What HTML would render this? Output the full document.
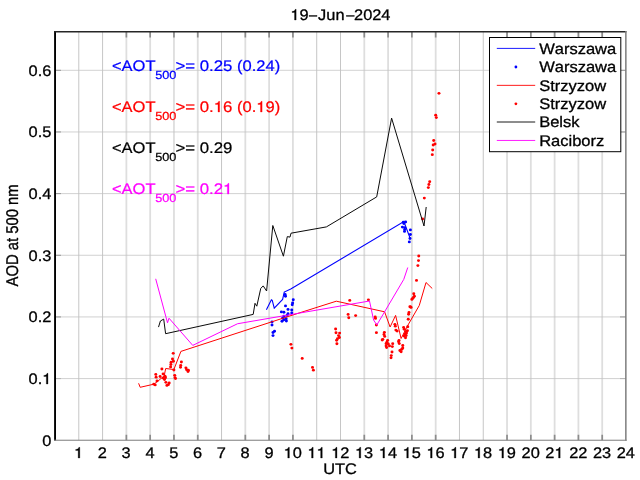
<!DOCTYPE html>
<html><head><meta charset="utf-8"><title>AOD 19-Jun-2024</title>
<style>html,body{margin:0;padding:0;background:#fff;}svg{display:block;}text{font-family:"Liberation Sans",sans-serif;stroke-width:3px;stroke-linejoin:round;text-rendering:geometricPrecision;font-kerning:none;white-space:pre;}.h{fill:none;stroke:none;}</style></head><body>
<svg width="640" height="480" viewBox="0 0 640 480" style="will-change:transform">
<defs><path id="one" d="M254 0V505H100V568C210 572 280 610 296 709H352V0Z" stroke-width="19" stroke-linejoin="round"/></defs>
<rect x="0" y="0" width="640" height="480" fill="#fff"/>
<line x1="78.79" y1="32.0" x2="78.79" y2="440.25" stroke="#c6c6c6" stroke-width="1"/>
<line x1="102.58" y1="32.0" x2="102.58" y2="440.25" stroke="#c6c6c6" stroke-width="1"/>
<line x1="126.38" y1="32.0" x2="126.38" y2="440.25" stroke="#dedede" stroke-width="1.8"/>
<line x1="150.17" y1="32.0" x2="150.17" y2="440.25" stroke="#dedede" stroke-width="1.8"/>
<line x1="173.96" y1="32.0" x2="173.96" y2="440.25" stroke="#dedede" stroke-width="1.8"/>
<line x1="197.75" y1="32.0" x2="197.75" y2="440.25" stroke="#dedede" stroke-width="1.8"/>
<line x1="221.54" y1="32.0" x2="221.54" y2="440.25" stroke="#c6c6c6" stroke-width="1"/>
<line x1="245.33" y1="32.0" x2="245.33" y2="440.25" stroke="#dedede" stroke-width="1.8"/>
<line x1="269.12" y1="32.0" x2="269.12" y2="440.25" stroke="#dedede" stroke-width="1.8"/>
<line x1="292.92" y1="32.0" x2="292.92" y2="440.25" stroke="#dedede" stroke-width="1.8"/>
<line x1="316.71" y1="32.0" x2="316.71" y2="440.25" stroke="#c6c6c6" stroke-width="1"/>
<line x1="340.50" y1="32.0" x2="340.50" y2="440.25" stroke="#c6c6c6" stroke-width="1"/>
<line x1="364.29" y1="32.0" x2="364.29" y2="440.25" stroke="#dedede" stroke-width="1.8"/>
<line x1="388.08" y1="32.0" x2="388.08" y2="440.25" stroke="#dedede" stroke-width="1.8"/>
<line x1="411.88" y1="32.0" x2="411.88" y2="440.25" stroke="#dedede" stroke-width="1.8"/>
<line x1="435.67" y1="32.0" x2="435.67" y2="440.25" stroke="#dedede" stroke-width="1.8"/>
<line x1="459.46" y1="32.0" x2="459.46" y2="440.25" stroke="#c6c6c6" stroke-width="1"/>
<line x1="483.25" y1="32.0" x2="483.25" y2="440.25" stroke="#c6c6c6" stroke-width="1"/>
<line x1="507.04" y1="32.0" x2="507.04" y2="440.25" stroke="#dedede" stroke-width="1.8"/>
<line x1="530.83" y1="32.0" x2="530.83" y2="440.25" stroke="#dedede" stroke-width="1.8"/>
<line x1="554.62" y1="32.0" x2="554.62" y2="440.25" stroke="#dedede" stroke-width="1.8"/>
<line x1="578.42" y1="32.0" x2="578.42" y2="440.25" stroke="#dedede" stroke-width="1.8"/>
<line x1="602.21" y1="32.0" x2="602.21" y2="440.25" stroke="#dedede" stroke-width="1.8"/>
<line x1="55.0" y1="378.59" x2="626.0" y2="378.59" stroke="#c2c2c2" stroke-width="0.75"/>
<line x1="55.0" y1="316.93" x2="626.0" y2="316.93" stroke="#c2c2c2" stroke-width="0.75"/>
<line x1="55.0" y1="255.28" x2="626.0" y2="255.28" stroke="#c2c2c2" stroke-width="0.75"/>
<line x1="55.0" y1="193.62" x2="626.0" y2="193.62" stroke="#c2c2c2" stroke-width="0.75"/>
<line x1="55.0" y1="131.96" x2="626.0" y2="131.96" stroke="#c2c2c2" stroke-width="0.75"/>
<line x1="55.0" y1="70.30" x2="626.0" y2="70.30" stroke="#c2c2c2" stroke-width="0.75"/>
<line x1="126.38" y1="440.25" x2="126.38" y2="434.75" stroke="#8c8c8c" stroke-width="1.7"/>
<line x1="126.38" y1="32.0" x2="126.38" y2="37.5" stroke="#8c8c8c" stroke-width="1.7"/>
<line x1="150.17" y1="440.25" x2="150.17" y2="434.75" stroke="#8c8c8c" stroke-width="1.7"/>
<line x1="150.17" y1="32.0" x2="150.17" y2="37.5" stroke="#8c8c8c" stroke-width="1.7"/>
<line x1="173.96" y1="440.25" x2="173.96" y2="434.75" stroke="#8c8c8c" stroke-width="1.7"/>
<line x1="173.96" y1="32.0" x2="173.96" y2="37.5" stroke="#8c8c8c" stroke-width="1.7"/>
<line x1="197.75" y1="440.25" x2="197.75" y2="434.75" stroke="#8c8c8c" stroke-width="1.7"/>
<line x1="197.75" y1="32.0" x2="197.75" y2="37.5" stroke="#8c8c8c" stroke-width="1.7"/>
<line x1="245.33" y1="440.25" x2="245.33" y2="434.75" stroke="#8c8c8c" stroke-width="1.7"/>
<line x1="245.33" y1="32.0" x2="245.33" y2="37.5" stroke="#8c8c8c" stroke-width="1.7"/>
<line x1="269.12" y1="440.25" x2="269.12" y2="434.75" stroke="#8c8c8c" stroke-width="1.7"/>
<line x1="269.12" y1="32.0" x2="269.12" y2="37.5" stroke="#8c8c8c" stroke-width="1.7"/>
<line x1="292.92" y1="440.25" x2="292.92" y2="434.75" stroke="#8c8c8c" stroke-width="1.7"/>
<line x1="292.92" y1="32.0" x2="292.92" y2="37.5" stroke="#8c8c8c" stroke-width="1.7"/>
<line x1="364.29" y1="440.25" x2="364.29" y2="434.75" stroke="#8c8c8c" stroke-width="1.7"/>
<line x1="364.29" y1="32.0" x2="364.29" y2="37.5" stroke="#8c8c8c" stroke-width="1.7"/>
<line x1="388.08" y1="440.25" x2="388.08" y2="434.75" stroke="#8c8c8c" stroke-width="1.7"/>
<line x1="388.08" y1="32.0" x2="388.08" y2="37.5" stroke="#8c8c8c" stroke-width="1.7"/>
<line x1="411.88" y1="440.25" x2="411.88" y2="434.75" stroke="#8c8c8c" stroke-width="1.7"/>
<line x1="411.88" y1="32.0" x2="411.88" y2="37.5" stroke="#8c8c8c" stroke-width="1.7"/>
<line x1="435.67" y1="440.25" x2="435.67" y2="434.75" stroke="#8c8c8c" stroke-width="1.7"/>
<line x1="435.67" y1="32.0" x2="435.67" y2="37.5" stroke="#8c8c8c" stroke-width="1.7"/>
<line x1="507.04" y1="440.25" x2="507.04" y2="434.75" stroke="#8c8c8c" stroke-width="1.7"/>
<line x1="507.04" y1="32.0" x2="507.04" y2="37.5" stroke="#8c8c8c" stroke-width="1.7"/>
<line x1="530.83" y1="440.25" x2="530.83" y2="434.75" stroke="#8c8c8c" stroke-width="1.7"/>
<line x1="530.83" y1="32.0" x2="530.83" y2="37.5" stroke="#8c8c8c" stroke-width="1.7"/>
<line x1="554.62" y1="440.25" x2="554.62" y2="434.75" stroke="#8c8c8c" stroke-width="1.7"/>
<line x1="554.62" y1="32.0" x2="554.62" y2="37.5" stroke="#8c8c8c" stroke-width="1.7"/>
<line x1="578.42" y1="440.25" x2="578.42" y2="434.75" stroke="#8c8c8c" stroke-width="1.7"/>
<line x1="578.42" y1="32.0" x2="578.42" y2="37.5" stroke="#8c8c8c" stroke-width="1.7"/>
<line x1="602.21" y1="440.25" x2="602.21" y2="434.75" stroke="#8c8c8c" stroke-width="1.7"/>
<line x1="602.21" y1="32.0" x2="602.21" y2="37.5" stroke="#8c8c8c" stroke-width="1.7"/>
<line x1="55.0" y1="378.59" x2="61.0" y2="378.59" stroke="#b0b0b0" stroke-width="0.9"/>
<line x1="626.0" y1="378.59" x2="620.0" y2="378.59" stroke="#b0b0b0" stroke-width="0.9"/>
<line x1="55.0" y1="316.93" x2="61.0" y2="316.93" stroke="#8e8e8e" stroke-width="0.9"/>
<line x1="626.0" y1="316.93" x2="620.0" y2="316.93" stroke="#8e8e8e" stroke-width="0.9"/>
<line x1="55.0" y1="255.28" x2="61.0" y2="255.28" stroke="#8e8e8e" stroke-width="0.9"/>
<line x1="626.0" y1="255.28" x2="620.0" y2="255.28" stroke="#8e8e8e" stroke-width="0.9"/>
<line x1="55.0" y1="193.62" x2="61.0" y2="193.62" stroke="#8e8e8e" stroke-width="0.9"/>
<line x1="626.0" y1="193.62" x2="620.0" y2="193.62" stroke="#8e8e8e" stroke-width="0.9"/>
<line x1="55.0" y1="131.96" x2="61.0" y2="131.96" stroke="#8e8e8e" stroke-width="0.9"/>
<line x1="626.0" y1="131.96" x2="620.0" y2="131.96" stroke="#8e8e8e" stroke-width="0.9"/>
<line x1="55.0" y1="70.30" x2="61.0" y2="70.30" stroke="#8e8e8e" stroke-width="0.9"/>
<line x1="626.0" y1="70.30" x2="620.0" y2="70.30" stroke="#8e8e8e" stroke-width="0.9"/>
<polyline points="266.40,309.75 271.40,299.75 272.25,300.25 274.25,308.10 282.60,299.40 284.25,292.10 290.75,289.00 403.90,221.60 410.20,238.50" fill="none" stroke="#0000ff" stroke-width="1.1" stroke-linejoin="miter"/>
<ellipse cx="285.10" cy="294.40" rx="1.5" ry="1.4" fill="#0000ff"/>
<ellipse cx="285.50" cy="296.25" rx="1.5" ry="1.4" fill="#0000ff"/>
<ellipse cx="293.25" cy="299.75" rx="1.5" ry="1.4" fill="#0000ff"/>
<ellipse cx="292.60" cy="302.90" rx="1.5" ry="1.4" fill="#0000ff"/>
<ellipse cx="292.25" cy="304.75" rx="1.5" ry="1.4" fill="#0000ff"/>
<ellipse cx="285.50" cy="305.90" rx="1.5" ry="1.4" fill="#0000ff"/>
<ellipse cx="288.00" cy="309.40" rx="1.5" ry="1.4" fill="#0000ff"/>
<ellipse cx="291.75" cy="310.00" rx="1.5" ry="1.4" fill="#0000ff"/>
<ellipse cx="281.40" cy="311.90" rx="1.5" ry="1.4" fill="#0000ff"/>
<ellipse cx="283.90" cy="312.25" rx="1.5" ry="1.4" fill="#0000ff"/>
<ellipse cx="291.75" cy="312.90" rx="1.5" ry="1.4" fill="#0000ff"/>
<ellipse cx="288.00" cy="313.75" rx="1.5" ry="1.4" fill="#0000ff"/>
<ellipse cx="287.00" cy="315.40" rx="1.5" ry="1.4" fill="#0000ff"/>
<ellipse cx="283.90" cy="316.25" rx="1.5" ry="1.4" fill="#0000ff"/>
<ellipse cx="282.60" cy="318.10" rx="1.5" ry="1.4" fill="#0000ff"/>
<ellipse cx="286.10" cy="318.75" rx="1.5" ry="1.4" fill="#0000ff"/>
<ellipse cx="283.90" cy="319.75" rx="1.5" ry="1.4" fill="#0000ff"/>
<ellipse cx="282.00" cy="321.25" rx="1.5" ry="1.4" fill="#0000ff"/>
<ellipse cx="286.40" cy="321.00" rx="1.5" ry="1.4" fill="#0000ff"/>
<ellipse cx="272.00" cy="321.90" rx="1.5" ry="1.4" fill="#0000ff"/>
<ellipse cx="272.00" cy="325.00" rx="1.5" ry="1.4" fill="#0000ff"/>
<ellipse cx="274.50" cy="331.25" rx="1.5" ry="1.4" fill="#0000ff"/>
<ellipse cx="273.00" cy="332.50" rx="1.5" ry="1.4" fill="#0000ff"/>
<ellipse cx="273.00" cy="335.60" rx="1.5" ry="1.4" fill="#0000ff"/>
<ellipse cx="403.30" cy="222.25" rx="1.5" ry="1.4" fill="#0000ff"/>
<ellipse cx="405.60" cy="221.90" rx="1.5" ry="1.4" fill="#0000ff"/>
<ellipse cx="403.90" cy="223.60" rx="1.5" ry="1.4" fill="#0000ff"/>
<ellipse cx="402.40" cy="227.10" rx="1.5" ry="1.4" fill="#0000ff"/>
<ellipse cx="404.70" cy="227.60" rx="1.5" ry="1.4" fill="#0000ff"/>
<ellipse cx="404.70" cy="229.40" rx="1.5" ry="1.4" fill="#0000ff"/>
<ellipse cx="404.50" cy="231.40" rx="1.5" ry="1.4" fill="#0000ff"/>
<ellipse cx="410.40" cy="229.90" rx="1.5" ry="1.4" fill="#0000ff"/>
<ellipse cx="410.40" cy="234.50" rx="1.5" ry="1.4" fill="#0000ff"/>
<ellipse cx="410.00" cy="238.50" rx="1.5" ry="1.4" fill="#0000ff"/>
<ellipse cx="409.30" cy="241.90" rx="1.5" ry="1.4" fill="#0000ff"/>
<polyline points="138.60,383.30 140.20,387.30 153.75,384.20 157.40,381.60 164.20,375.80 165.70,368.50 173.90,369.50 180.90,351.40 290.00,315.90 336.30,301.20 384.60,311.80 390.10,327.00 395.60,315.40 401.10,338.50 408.00,325.00 419.25,305.50 426.00,282.50 432.25,288.50" fill="none" stroke="#ff0000" stroke-width="1.0" stroke-linejoin="miter"/>
<ellipse cx="173.20" cy="353.30" rx="1.5" ry="1.4" fill="#ff0000"/>
<ellipse cx="172.50" cy="358.90" rx="1.5" ry="1.4" fill="#ff0000"/>
<ellipse cx="173.40" cy="361.25" rx="1.5" ry="1.4" fill="#ff0000"/>
<ellipse cx="171.10" cy="362.20" rx="1.5" ry="1.4" fill="#ff0000"/>
<ellipse cx="170.90" cy="364.50" rx="1.5" ry="1.4" fill="#ff0000"/>
<ellipse cx="170.60" cy="366.90" rx="1.5" ry="1.4" fill="#ff0000"/>
<ellipse cx="181.40" cy="362.00" rx="1.5" ry="1.4" fill="#ff0000"/>
<ellipse cx="180.70" cy="365.50" rx="1.5" ry="1.4" fill="#ff0000"/>
<ellipse cx="180.50" cy="367.30" rx="1.5" ry="1.4" fill="#ff0000"/>
<ellipse cx="185.90" cy="367.80" rx="1.5" ry="1.4" fill="#ff0000"/>
<ellipse cx="186.60" cy="369.70" rx="1.5" ry="1.4" fill="#ff0000"/>
<ellipse cx="188.40" cy="370.20" rx="1.5" ry="1.4" fill="#ff0000"/>
<ellipse cx="188.00" cy="371.60" rx="1.5" ry="1.4" fill="#ff0000"/>
<ellipse cx="161.90" cy="369.00" rx="1.5" ry="1.4" fill="#ff0000"/>
<ellipse cx="173.90" cy="370.00" rx="1.5" ry="1.4" fill="#ff0000"/>
<ellipse cx="155.80" cy="374.40" rx="1.5" ry="1.4" fill="#ff0000"/>
<ellipse cx="163.10" cy="373.90" rx="1.5" ry="1.4" fill="#ff0000"/>
<ellipse cx="156.10" cy="377.20" rx="1.5" ry="1.4" fill="#ff0000"/>
<ellipse cx="160.10" cy="376.50" rx="1.5" ry="1.4" fill="#ff0000"/>
<ellipse cx="165.00" cy="376.25" rx="1.5" ry="1.4" fill="#ff0000"/>
<ellipse cx="165.50" cy="377.70" rx="1.5" ry="1.4" fill="#ff0000"/>
<ellipse cx="163.10" cy="378.10" rx="1.5" ry="1.4" fill="#ff0000"/>
<ellipse cx="164.50" cy="379.50" rx="1.5" ry="1.4" fill="#ff0000"/>
<ellipse cx="174.70" cy="375.30" rx="1.5" ry="1.4" fill="#ff0000"/>
<ellipse cx="175.00" cy="377.70" rx="1.5" ry="1.4" fill="#ff0000"/>
<ellipse cx="175.50" cy="378.60" rx="1.5" ry="1.4" fill="#ff0000"/>
<ellipse cx="157.00" cy="380.90" rx="1.5" ry="1.4" fill="#ff0000"/>
<ellipse cx="165.90" cy="382.30" rx="1.5" ry="1.4" fill="#ff0000"/>
<ellipse cx="169.20" cy="383.00" rx="1.5" ry="1.4" fill="#ff0000"/>
<ellipse cx="168.30" cy="384.70" rx="1.5" ry="1.4" fill="#ff0000"/>
<ellipse cx="166.90" cy="385.40" rx="1.5" ry="1.4" fill="#ff0000"/>
<ellipse cx="153.75" cy="384.20" rx="1.5" ry="1.4" fill="#ff0000"/>
<ellipse cx="155.20" cy="384.90" rx="1.5" ry="1.4" fill="#ff0000"/>
<ellipse cx="290.90" cy="344.30" rx="1.5" ry="1.4" fill="#ff0000"/>
<ellipse cx="291.90" cy="348.10" rx="1.5" ry="1.4" fill="#ff0000"/>
<ellipse cx="302.20" cy="358.40" rx="1.5" ry="1.4" fill="#ff0000"/>
<ellipse cx="312.50" cy="367.40" rx="1.5" ry="1.4" fill="#ff0000"/>
<ellipse cx="313.40" cy="370.20" rx="1.5" ry="1.4" fill="#ff0000"/>
<ellipse cx="349.75" cy="300.40" rx="1.5" ry="1.4" fill="#ff0000"/>
<ellipse cx="348.10" cy="314.40" rx="1.5" ry="1.4" fill="#ff0000"/>
<ellipse cx="348.75" cy="317.75" rx="1.5" ry="1.4" fill="#ff0000"/>
<ellipse cx="355.60" cy="315.60" rx="1.5" ry="1.4" fill="#ff0000"/>
<ellipse cx="335.60" cy="329.00" rx="1.5" ry="1.4" fill="#ff0000"/>
<ellipse cx="336.00" cy="332.75" rx="1.5" ry="1.4" fill="#ff0000"/>
<ellipse cx="339.60" cy="333.10" rx="1.5" ry="1.4" fill="#ff0000"/>
<ellipse cx="338.50" cy="335.60" rx="1.5" ry="1.4" fill="#ff0000"/>
<ellipse cx="339.40" cy="337.50" rx="1.5" ry="1.4" fill="#ff0000"/>
<ellipse cx="337.50" cy="338.75" rx="1.5" ry="1.4" fill="#ff0000"/>
<ellipse cx="336.60" cy="340.25" rx="1.5" ry="1.4" fill="#ff0000"/>
<ellipse cx="336.90" cy="343.75" rx="1.5" ry="1.4" fill="#ff0000"/>
<ellipse cx="368.40" cy="299.80" rx="1.5" ry="1.4" fill="#ff0000"/>
<ellipse cx="375.20" cy="317.00" rx="1.5" ry="1.4" fill="#ff0000"/>
<ellipse cx="375.50" cy="318.40" rx="1.5" ry="1.4" fill="#ff0000"/>
<ellipse cx="376.40" cy="325.00" rx="1.5" ry="1.4" fill="#ff0000"/>
<ellipse cx="376.40" cy="332.70" rx="1.5" ry="1.4" fill="#ff0000"/>
<ellipse cx="384.40" cy="332.30" rx="1.5" ry="1.4" fill="#ff0000"/>
<ellipse cx="384.00" cy="334.50" rx="1.5" ry="1.4" fill="#ff0000"/>
<ellipse cx="384.70" cy="336.40" rx="1.5" ry="1.4" fill="#ff0000"/>
<ellipse cx="382.80" cy="339.30" rx="1.5" ry="1.4" fill="#ff0000"/>
<ellipse cx="382.20" cy="340.00" rx="1.5" ry="1.4" fill="#ff0000"/>
<ellipse cx="387.60" cy="340.30" rx="1.5" ry="1.4" fill="#ff0000"/>
<ellipse cx="386.90" cy="342.20" rx="1.5" ry="1.4" fill="#ff0000"/>
<ellipse cx="386.10" cy="343.70" rx="1.5" ry="1.4" fill="#ff0000"/>
<ellipse cx="388.30" cy="344.00" rx="1.5" ry="1.4" fill="#ff0000"/>
<ellipse cx="392.70" cy="343.70" rx="1.5" ry="1.4" fill="#ff0000"/>
<ellipse cx="386.10" cy="345.90" rx="1.5" ry="1.4" fill="#ff0000"/>
<ellipse cx="389.50" cy="345.90" rx="1.5" ry="1.4" fill="#ff0000"/>
<ellipse cx="392.30" cy="346.60" rx="1.5" ry="1.4" fill="#ff0000"/>
<ellipse cx="386.60" cy="347.60" rx="1.5" ry="1.4" fill="#ff0000"/>
<ellipse cx="392.00" cy="352.00" rx="1.5" ry="1.4" fill="#ff0000"/>
<ellipse cx="391.25" cy="355.60" rx="1.5" ry="1.4" fill="#ff0000"/>
<ellipse cx="391.00" cy="357.80" rx="1.5" ry="1.4" fill="#ff0000"/>
<ellipse cx="394.90" cy="324.30" rx="1.5" ry="1.4" fill="#ff0000"/>
<ellipse cx="395.30" cy="326.20" rx="1.5" ry="1.4" fill="#ff0000"/>
<ellipse cx="395.90" cy="330.10" rx="1.5" ry="1.4" fill="#ff0000"/>
<ellipse cx="397.10" cy="331.10" rx="1.5" ry="1.4" fill="#ff0000"/>
<ellipse cx="399.00" cy="340.50" rx="1.5" ry="1.4" fill="#ff0000"/>
<ellipse cx="398.60" cy="341.75" rx="1.5" ry="1.4" fill="#ff0000"/>
<ellipse cx="399.25" cy="343.60" rx="1.5" ry="1.4" fill="#ff0000"/>
<ellipse cx="402.75" cy="345.50" rx="1.5" ry="1.4" fill="#ff0000"/>
<ellipse cx="402.75" cy="348.00" rx="1.5" ry="1.4" fill="#ff0000"/>
<ellipse cx="401.75" cy="349.25" rx="1.5" ry="1.4" fill="#ff0000"/>
<ellipse cx="399.90" cy="350.50" rx="1.5" ry="1.4" fill="#ff0000"/>
<ellipse cx="401.10" cy="351.75" rx="1.5" ry="1.4" fill="#ff0000"/>
<ellipse cx="407.75" cy="326.75" rx="1.5" ry="1.4" fill="#ff0000"/>
<ellipse cx="403.60" cy="327.40" rx="1.5" ry="1.4" fill="#ff0000"/>
<ellipse cx="404.25" cy="329.25" rx="1.5" ry="1.4" fill="#ff0000"/>
<ellipse cx="407.40" cy="330.75" rx="1.5" ry="1.4" fill="#ff0000"/>
<ellipse cx="405.50" cy="331.75" rx="1.5" ry="1.4" fill="#ff0000"/>
<ellipse cx="406.50" cy="333.00" rx="1.5" ry="1.4" fill="#ff0000"/>
<ellipse cx="404.90" cy="334.25" rx="1.5" ry="1.4" fill="#ff0000"/>
<ellipse cx="406.10" cy="335.50" rx="1.5" ry="1.4" fill="#ff0000"/>
<ellipse cx="404.00" cy="336.10" rx="1.5" ry="1.4" fill="#ff0000"/>
<ellipse cx="405.50" cy="337.75" rx="1.5" ry="1.4" fill="#ff0000"/>
<ellipse cx="412.40" cy="298.60" rx="1.5" ry="1.4" fill="#ff0000"/>
<ellipse cx="409.90" cy="306.75" rx="1.5" ry="1.4" fill="#ff0000"/>
<ellipse cx="411.10" cy="307.40" rx="1.5" ry="1.4" fill="#ff0000"/>
<ellipse cx="409.00" cy="312.40" rx="1.5" ry="1.4" fill="#ff0000"/>
<ellipse cx="408.60" cy="314.25" rx="1.5" ry="1.4" fill="#ff0000"/>
<ellipse cx="408.25" cy="319.25" rx="1.5" ry="1.4" fill="#ff0000"/>
<ellipse cx="418.75" cy="256.00" rx="1.5" ry="1.4" fill="#ff0000"/>
<ellipse cx="418.50" cy="260.60" rx="1.5" ry="1.4" fill="#ff0000"/>
<ellipse cx="417.90" cy="265.60" rx="1.5" ry="1.4" fill="#ff0000"/>
<ellipse cx="416.50" cy="280.40" rx="1.5" ry="1.4" fill="#ff0000"/>
<ellipse cx="413.75" cy="293.75" rx="1.5" ry="1.4" fill="#ff0000"/>
<ellipse cx="414.40" cy="296.25" rx="1.5" ry="1.4" fill="#ff0000"/>
<ellipse cx="413.50" cy="297.50" rx="1.5" ry="1.4" fill="#ff0000"/>
<ellipse cx="411.90" cy="299.40" rx="1.5" ry="1.4" fill="#ff0000"/>
<ellipse cx="410.60" cy="306.90" rx="1.5" ry="1.4" fill="#ff0000"/>
<ellipse cx="424.30" cy="198.10" rx="1.5" ry="1.4" fill="#ff0000"/>
<ellipse cx="422.60" cy="219.00" rx="1.5" ry="1.4" fill="#ff0000"/>
<ellipse cx="429.70" cy="181.70" rx="1.5" ry="1.4" fill="#ff0000"/>
<ellipse cx="428.90" cy="184.50" rx="1.5" ry="1.4" fill="#ff0000"/>
<ellipse cx="428.30" cy="187.60" rx="1.5" ry="1.4" fill="#ff0000"/>
<ellipse cx="438.95" cy="93.30" rx="1.5" ry="1.4" fill="#ff0000"/>
<ellipse cx="435.70" cy="115.20" rx="1.5" ry="1.4" fill="#ff0000"/>
<ellipse cx="436.30" cy="117.55" rx="1.5" ry="1.4" fill="#ff0000"/>
<ellipse cx="433.70" cy="140.50" rx="1.5" ry="1.4" fill="#ff0000"/>
<ellipse cx="435.00" cy="144.00" rx="1.5" ry="1.4" fill="#ff0000"/>
<ellipse cx="433.20" cy="145.00" rx="1.5" ry="1.4" fill="#ff0000"/>
<ellipse cx="432.70" cy="150.00" rx="1.5" ry="1.4" fill="#ff0000"/>
<ellipse cx="432.30" cy="154.70" rx="1.5" ry="1.4" fill="#ff0000"/>
<polyline points="158.50,327.10 160.40,321.00 163.70,319.10 165.60,333.70 253.20,314.40 255.00,303.30 256.80,306.20 260.75,288.40 263.20,285.90 266.60,291.00 272.80,225.50 283.40,256.20 287.30,236.60 290.00,237.10 291.00,233.20 326.40,226.90 376.70,196.90 391.60,118.10 424.00,226.00 426.20,207.00" fill="none" stroke="#0a0a0a" stroke-width="1.0" stroke-linejoin="miter"/>
<polyline points="155.70,278.80 167.50,322.80 169.00,318.20 192.75,345.40 237.50,323.75 369.50,301.00 373.60,320.00 376.80,325.00 403.75,279.40 407.75,267.50" fill="none" stroke="#ff00ff" stroke-width="1.0" stroke-linejoin="miter"/>
<rect x="54.1" y="31.0" width="1.9" height="409.7" fill="#000"/>
<rect x="54.1" y="31.0" width="572.3" height="1.5" fill="#262626"/>
<rect x="625.1" y="31.0" width="1.5" height="409.8" fill="#7e7e7e"/>
<rect x="54.1" y="439.7" width="572.5" height="1.1" fill="#888"/>
<text transform="translate(78.59,458.00) scale(0.10620,0.1)" x="-42.8" fill="#000" stroke="#000" font-size="154"><tspan class="h">1</tspan></text><use href="#one" transform="translate(74.04,458.00) scale(0.01635,-0.01500)" fill="#000" stroke="#000"/>
<text transform="translate(102.38,458.00) scale(0.10620,0.1)" x="-42.8" fill="#000" stroke="#000" font-size="154">2</text>
<text transform="translate(126.17,458.00) scale(0.10620,0.1)" x="-42.8" fill="#000" stroke="#000" font-size="154">3</text>
<text transform="translate(149.97,458.00) scale(0.10620,0.1)" x="-42.8" fill="#000" stroke="#000" font-size="154">4</text>
<text transform="translate(173.76,458.00) scale(0.10620,0.1)" x="-42.8" fill="#000" stroke="#000" font-size="154">5</text>
<text transform="translate(197.55,458.00) scale(0.10620,0.1)" x="-42.8" fill="#000" stroke="#000" font-size="154">6</text>
<text transform="translate(221.34,458.00) scale(0.10620,0.1)" x="-42.8" fill="#000" stroke="#000" font-size="154">7</text>
<text transform="translate(245.13,458.00) scale(0.10620,0.1)" x="-42.8" fill="#000" stroke="#000" font-size="154">8</text>
<text transform="translate(268.93,458.00) scale(0.10620,0.1)" x="-42.8" fill="#000" stroke="#000" font-size="154">9</text>
<text transform="translate(292.72,458.00) scale(0.10620,0.1)" x="-85.6 0.0" fill="#000" stroke="#000" font-size="154"><tspan class="h">1</tspan>0</text><use href="#one" transform="translate(283.62,458.00) scale(0.01635,-0.01500)" fill="#000" stroke="#000"/>
<text transform="translate(316.51,458.00) scale(0.10620,0.1)" x="-85.6 0.0" fill="#000" stroke="#000" font-size="154"><tspan class="h">1</tspan><tspan class="h">1</tspan></text><use href="#one" transform="translate(307.41,458.00) scale(0.01635,-0.01500)" fill="#000" stroke="#000"/><use href="#one" transform="translate(316.51,458.00) scale(0.01635,-0.01500)" fill="#000" stroke="#000"/>
<text transform="translate(340.30,458.00) scale(0.10620,0.1)" x="-85.6 0.0" fill="#000" stroke="#000" font-size="154"><tspan class="h">1</tspan>2</text><use href="#one" transform="translate(331.20,458.00) scale(0.01635,-0.01500)" fill="#000" stroke="#000"/>
<text transform="translate(364.09,458.00) scale(0.10620,0.1)" x="-85.6 0.0" fill="#000" stroke="#000" font-size="154"><tspan class="h">1</tspan>3</text><use href="#one" transform="translate(355.00,458.00) scale(0.01635,-0.01500)" fill="#000" stroke="#000"/>
<text transform="translate(387.88,458.00) scale(0.10620,0.1)" x="-85.6 0.0" fill="#000" stroke="#000" font-size="154"><tspan class="h">1</tspan>4</text><use href="#one" transform="translate(378.79,458.00) scale(0.01635,-0.01500)" fill="#000" stroke="#000"/>
<text transform="translate(411.68,458.00) scale(0.10620,0.1)" x="-85.6 0.0" fill="#000" stroke="#000" font-size="154"><tspan class="h">1</tspan>5</text><use href="#one" transform="translate(402.58,458.00) scale(0.01635,-0.01500)" fill="#000" stroke="#000"/>
<text transform="translate(435.47,458.00) scale(0.10620,0.1)" x="-85.6 0.0" fill="#000" stroke="#000" font-size="154"><tspan class="h">1</tspan>6</text><use href="#one" transform="translate(426.37,458.00) scale(0.01635,-0.01500)" fill="#000" stroke="#000"/>
<text transform="translate(459.26,458.00) scale(0.10620,0.1)" x="-85.6 0.0" fill="#000" stroke="#000" font-size="154"><tspan class="h">1</tspan>7</text><use href="#one" transform="translate(450.16,458.00) scale(0.01635,-0.01500)" fill="#000" stroke="#000"/>
<text transform="translate(483.05,458.00) scale(0.10620,0.1)" x="-85.6 0.0" fill="#000" stroke="#000" font-size="154"><tspan class="h">1</tspan>8</text><use href="#one" transform="translate(473.95,458.00) scale(0.01635,-0.01500)" fill="#000" stroke="#000"/>
<text transform="translate(506.84,458.00) scale(0.10620,0.1)" x="-85.6 0.0" fill="#000" stroke="#000" font-size="154"><tspan class="h">1</tspan>9</text><use href="#one" transform="translate(497.75,458.00) scale(0.01635,-0.01500)" fill="#000" stroke="#000"/>
<text transform="translate(530.63,458.00) scale(0.10620,0.1)" x="-85.6 0.0" fill="#000" stroke="#000" font-size="154">20</text>
<text transform="translate(554.42,458.00) scale(0.10620,0.1)" x="-85.6 0.0" fill="#000" stroke="#000" font-size="154">2<tspan class="h">1</tspan></text><use href="#one" transform="translate(554.42,458.00) scale(0.01635,-0.01500)" fill="#000" stroke="#000"/>
<text transform="translate(578.22,458.00) scale(0.10620,0.1)" x="-85.6 0.0" fill="#000" stroke="#000" font-size="154">22</text>
<text transform="translate(602.01,458.00) scale(0.10620,0.1)" x="-85.6 0.0" fill="#000" stroke="#000" font-size="154">23</text>
<text transform="translate(625.80,458.00) scale(0.10620,0.1)" x="-85.6 0.0" fill="#000" stroke="#000" font-size="154">24</text>
<text transform="translate(51.30,446.00) scale(0.10620,0.1)" x="-85.6" fill="#000" stroke="#000" font-size="154">0</text>
<text transform="translate(51.30,384.00) scale(0.10620,0.1)" x="-214.1 -128.4 -85.6" fill="#000" stroke="#000" font-size="154">0.<tspan class="h">1</tspan></text><use href="#one" transform="translate(42.20,384.00) scale(0.01635,-0.01500)" fill="#000" stroke="#000"/>
<text transform="translate(51.30,322.00) scale(0.10620,0.1)" x="-214.1 -128.4 -85.6" fill="#000" stroke="#000" font-size="154">0.2</text>
<text transform="translate(51.30,261.00) scale(0.10620,0.1)" x="-214.1 -128.4 -85.6" fill="#000" stroke="#000" font-size="154">0.3</text>
<text transform="translate(51.30,199.00) scale(0.10620,0.1)" x="-214.1 -128.4 -85.6" fill="#000" stroke="#000" font-size="154">0.4</text>
<text transform="translate(51.30,137.00) scale(0.10620,0.1)" x="-214.1 -128.4 -85.6" fill="#000" stroke="#000" font-size="154">0.5</text>
<text transform="translate(51.30,76.00) scale(0.10620,0.1)" x="-214.1 -128.4 -85.6" fill="#000" stroke="#000" font-size="154">0.6</text>
<text transform="translate(340.40,20.00) scale(0.10620,0.1)" x="-471.0 -385.4 -301.6 -209.8 -132.8 -47.1 47.0 128.4 214.1 299.7 385.4" fill="#000" stroke="#000" font-size="154"><tspan class="h">1</tspan>9<tspan dy="13">−</tspan><tspan dy="-13">J</tspan>un<tspan dy="13">−</tspan><tspan dy="-13">2</tspan>024</text><use href="#one" transform="translate(290.38,20.00) scale(0.01635,-0.01500)" fill="#000" stroke="#000"/>
<text transform="translate(340.00,474.00) scale(0.10620,0.1)" x="-158.2 -47.0 47.0" fill="#000" stroke="#000" font-size="154">UTC</text>
<text transform="translate(17.8,235.4) scale(0.11000,0.09620) rotate(-90)" text-anchor="middle" font-size="154" fill="#000" stroke="#000">AOD at 500 nm</text>
<text transform="translate(111.90,71.00) scale(0.10750,0.1)" x="0.0 89.9 192.7 312.4" fill="#0000ff" stroke="#0000ff" font-size="154" style="stroke-width:2.2px">&lt;AOT</text><text transform="translate(155.25,78.60) scale(0.10750,0.1)" x="0.0 65.6 131.3" fill="#0000ff" stroke="#0000ff" font-size="118" style="stroke-width:2.2px">500</text><text transform="translate(175.51,71.00) scale(0.10890,0.1)" x="0.0 89.9 179.9 222.7 308.3 351.1 436.7" fill="#0000ff" stroke="#0000ff" font-size="154" style="stroke-width:2.2px">&gt;= 0.25</text><text transform="translate(236.95,71.00) scale(0.10750,0.1)" x="0.0 51.3 136.9 179.7 265.4 351.0" fill="#0000ff" stroke="#0000ff" font-size="154" style="stroke-width:2.2px">(0.24)</text>
<text transform="translate(111.90,112.00) scale(0.10750,0.1)" x="0.0 89.9 192.7 312.4" fill="#ff0000" stroke="#ff0000" font-size="154" style="stroke-width:2.2px">&lt;AOT</text><text transform="translate(155.25,119.60) scale(0.10750,0.1)" x="0.0 65.6 131.3" fill="#ff0000" stroke="#ff0000" font-size="118" style="stroke-width:2.2px">500</text><text transform="translate(175.51,112.00) scale(0.10890,0.1)" x="0.0 89.9 179.9 222.7 308.3 351.1 436.7" fill="#ff0000" stroke="#ff0000" font-size="154" style="stroke-width:2.2px">&gt;= 0.<tspan class="h">1</tspan>6</text><use href="#one" transform="translate(213.75,112.00) scale(0.01677,-0.01500)" fill="#ff0000" stroke="#ff0000" style="stroke-width:14.1px"/><text transform="translate(236.95,112.00) scale(0.10750,0.1)" x="0.0 51.3 136.9 179.7 265.4 351.0" fill="#ff0000" stroke="#ff0000" font-size="154" style="stroke-width:2.2px">(0.<tspan class="h">1</tspan>9)</text><use href="#one" transform="translate(256.27,112.00) scale(0.01656,-0.01500)" fill="#ff0000" stroke="#ff0000" style="stroke-width:14.1px"/>
<text transform="translate(111.90,153.00) scale(0.10750,0.1)" x="0.0 89.9 192.7 312.4" fill="#000000" stroke="#000000" font-size="154" style="stroke-width:2.2px">&lt;AOT</text><text transform="translate(155.25,160.60) scale(0.10750,0.1)" x="0.0 65.6 131.3" fill="#000000" stroke="#000000" font-size="118" style="stroke-width:2.2px">500</text><text transform="translate(175.51,153.00) scale(0.10890,0.1)" x="0.0 89.9 179.9 222.7 308.3 351.1 436.7" fill="#000000" stroke="#000000" font-size="154" style="stroke-width:2.2px">&gt;= 0.29</text>
<text transform="translate(111.90,194.00) scale(0.10750,0.1)" x="0.0 89.9 192.7 312.4" fill="#ff00ff" stroke="#ff00ff" font-size="154" style="stroke-width:2.2px">&lt;AOT</text><text transform="translate(155.25,201.60) scale(0.10750,0.1)" x="0.0 65.6 131.3" fill="#ff00ff" stroke="#ff00ff" font-size="118" style="stroke-width:2.2px">500</text><text transform="translate(175.51,194.00) scale(0.10890,0.1)" x="0.0 89.9 179.9 222.7 308.3 351.1 436.7" fill="#ff00ff" stroke="#ff00ff" font-size="154" style="stroke-width:2.2px">&gt;= 0.2<tspan class="h">1</tspan></text><use href="#one" transform="translate(223.07,194.00) scale(0.01677,-0.01500)" fill="#ff00ff" stroke="#ff00ff" style="stroke-width:14.1px"/>
<rect x="489.5" y="37.5" width="131.29999999999995" height="114.19999999999999" fill="#fff" stroke="#000" stroke-width="1"/>
<line x1="496.8" y1="48.4" x2="535.2" y2="48.4" stroke="#0000ff" stroke-width="0.9"/>
<text transform="translate(539.20,54.00) scale(0.10705,0.1)" x="0.0 145.4 231.0 282.3 359.3 436.3 521.9 633.1" fill="#000" stroke="#000" font-size="154">Warszawa</text>
<circle cx="515.9" cy="67.0" r="1.4" fill="#0000ff"/>
<text transform="translate(539.20,72.00) scale(0.10705,0.1)" x="0.0 145.4 231.0 282.3 359.3 436.3 521.9 633.1" fill="#000" stroke="#000" font-size="154">Warszawa</text>
<line x1="496.8" y1="85.35" x2="535.2" y2="85.35" stroke="#ff0000" stroke-width="0.9"/>
<text transform="translate(539.20,91.00) scale(0.10705,0.1)" x="0.0 102.7 145.5 196.8 273.8 350.8 427.8 513.4" fill="#000" stroke="#000" font-size="154">Strzyzow</text>
<circle cx="515.9" cy="103.8" r="1.4" fill="#ff0000"/>
<text transform="translate(539.20,109.00) scale(0.10705,0.1)" x="0.0 102.7 145.5 196.8 273.8 350.8 427.8 513.4" fill="#000" stroke="#000" font-size="154">Strzyzow</text>
<line x1="496.8" y1="122.0" x2="535.2" y2="122.0" stroke="#000000" stroke-width="0.9"/>
<text transform="translate(539.20,127.00) scale(0.10705,0.1)" x="0.0 102.7 188.4 222.6 299.6" fill="#000" stroke="#000" font-size="154">Belsk</text>
<line x1="496.8" y1="140.45" x2="535.2" y2="140.45" stroke="#ff00ff" stroke-width="0.9"/>
<text transform="translate(539.20,146.00) scale(0.10705,0.1)" x="0.0 111.2 196.9 273.9 308.1 393.7 479.4 530.7" fill="#000" stroke="#000" font-size="154">Raciborz</text>
</svg></body></html>
